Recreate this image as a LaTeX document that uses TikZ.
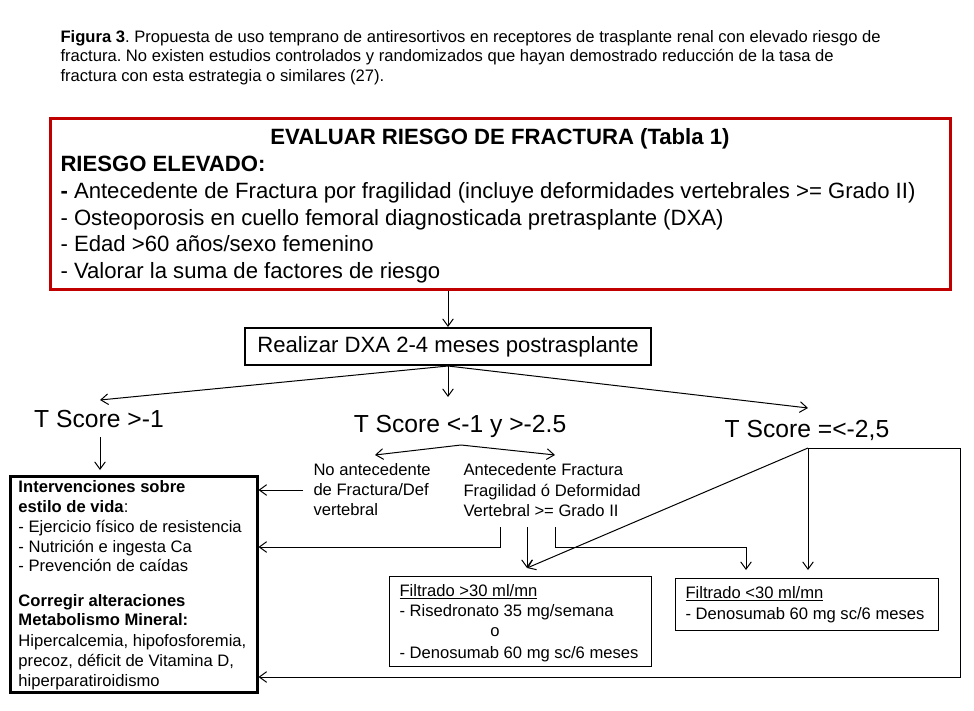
\documentclass[tikz,border=0pt]{standalone}
\usepackage{fontspec}
\setmainfont{Liberation Sans}
\usetikzlibrary{arrows.meta}
\definecolor{boxred}{HTML}{C00000}
\frenchspacing
\begin{document}
\begin{tikzpicture}[x=0.75pt,y=-0.75pt,line width=0.75pt,
  arr/.style={-{Straight Barb[length=5.5pt,width=8pt,line width=0.75pt]}},
  ln/.style={inner sep=0pt,anchor=base west},
  captxt/.style={ln,font=\fontsize{12.45pt}{14pt}\selectfont},
  bigtxt/.style={ln,font=\fontsize{16.6pt}{19pt}\selectfont},
  smtxt/.style={ln,font=\fontsize{12.45pt}{14pt}\selectfont},
  tsc/.style={inner sep=0pt,font=\fontsize{18.5pt}{21pt}\selectfont}]
\useasboundingbox (0,0) rectangle (974,710);
% caption
\node[captxt] (c1) at (60,43) {\textbf{Figura 3}. Propuesta de uso temprano de antiresortivos en receptores de trasplante renal con elevado riesgo de};
\node[captxt] (c2) at (60,62) {fractura. No existen estudios controlados y randomizados que hayan demostrado reducción de la tasa de};
\node[captxt] (c3) at (60,82) {fractura con esta estrategia o similares (27).};
% red box
\node[draw=boxred,line width=2.25pt,minimum width=675pt,minimum height=128.25pt,inner sep=0pt] (risk) at (500,203.5) {};
\node[inner sep=0pt,font=\bfseries\fontsize{16.6pt}{19pt}\selectfont] (rt) at (500,139) {EVALUAR RIESGO DE FRACTURA (Tabla 1)};
\node[bigtxt] (r0) at (60,171) {\textbf{RIESGO ELEVADO:}};
\node[bigtxt] (r1) at (60,198) {\textbf{-} Antecedente de Fractura por fragilidad (incluye deformidades vertebrales >= Grado II)};
\node[bigtxt] (r2) at (60,225) {- Osteoporosis en cuello femoral diagnosticada pretrasplante (DXA)};
\node[bigtxt] (r3) at (60,251) {- Edad >60 años/sexo femenino};
\node[bigtxt] (r4) at (60,278) {- Valorar la suma de factores de riesgo};
% DXA
\node[draw,line width=1.5pt,minimum width=304.5pt,minimum height=27.75pt,inner sep=0pt,font=\fontsize{16.6pt}{19pt}\selectfont] (dxa) at (448,346.5) {\raisebox{-2pt}{Realizar DXA 2-4 meses postrasplante}};
\draw[arr] (dxa.north |- risk.south) -- (dxa.north);
% T scores
\node[tsc] (t1) at (99,419) {T Score >-1};
\node[tsc] (t2) at (460,426) {T Score <-1 y >-2.5};
\node[tsc] (t3) at (807,430) {T Score =<-2,5};
\coordinate (t1in) at (100,400);
\coordinate (t2in) at (448,397);
\coordinate (t3in) at (808,408);
\draw[arr] (dxa.south) -- (t1in);
\draw[arr] (dxa.south) -- (t2in);
\draw[arr] (dxa.south) -- (t3in);
% life box
\node[draw,line width=2.25pt,minimum width=185.25pt,minimum height=162pt,inner sep=0pt] (life) at (133.5,584) {};
\coordinate (t1out) at (100,437);
\draw[arr] (t1out) -- (t1out |- 0,470);
\node[smtxt] (l1) at (18,492) {\textbf{Intervenciones sobre}};
\node[smtxt] (l2) at (18,512) {\textbf{estilo de vida}:};
\node[smtxt] (l3) at (18,532) {- Ejercicio físico de resistencia};
\node[smtxt] (l4) at (18,552) {- Nutrición e ingesta Ca};
\node[smtxt] (l5) at (18,571) {- Prevención de caídas};
\node[smtxt] (l6) at (18,606) {\textbf{Corregir alteraciones}};
\node[smtxt] (l7) at (18,625) {\textbf{Metabolismo Mineral:}};
\node[smtxt] (l8) at (18,646) {Hipercalcemia, hipofosforemia,};
\node[smtxt] (l9) at (18,666) {precoz, déficit de Vitamina D,};
\node[smtxt] (l10) at (18,686) {hiperparatiroidismo};
% middle branch
\coordinate (t2out) at (461,445);
\coordinate (noin) at (375,455);
\coordinate (siin) at (555,455);
\draw[arr] (t2out) -- (noin);
\draw[arr] (t2out) -- (siin);
\node[smtxt] (n1) at (313,475) {No antecedente};
\node[smtxt] (n2) at (313,495) {de Fractura/Def};
\node[smtxt] (n3) at (313,515) {vertebral};
\node[smtxt] (s1) at (463,475) {Antecedente Fractura};
\node[smtxt] (s2) at (463,496) {Fragilidad ó Deformidad};
\node[smtxt] (s3) at (463,516) {Vertebral >= Grado II};
\draw[arr] (303,490) -- (life.east |- 0,490);
\draw[arr] (500,527) -- (500,547) -- (life.east |- 0,547);
% filtrado boxes
\node[draw,minimum width=196.5pt,minimum height=67.5pt,inner sep=0pt] (f1) at (520,621) {};
\node[draw,minimum width=197.25pt,minimum height=39pt,inner sep=0pt] (f2) at (806.5,604) {};
\node[smtxt] (f1a) at (399,596) {\underline{Filtrado >30 ml/mn}};
\node[smtxt] (f1b) at (399,616) {- Risedronato 35 mg/semana};
\node[inner sep=0pt,font=\fontsize{12.45pt}{14pt}\selectfont] (f1c) at (495,632) {o};
\node[smtxt] (f1d) at (399,658) {- Denosumab 60 mg sc/6 meses};
\node[smtxt] (f2a) at (685,598) {\underline{Filtrado <30 ml/mn}};
\node[smtxt] (f2b) at (685,619) {- Denosumab 60 mg sc/6 meses};
\coordinate (f1in) at (527,568);
\coordinate (f2in) at (746,570);
\coordinate (f2in2) at (808,570);
\draw[arr] (527,527) -- (f1in);
\draw[arr] (555,527) -- (555,547) -- (f2in |- 0,547) -- (f2in);
% right branch
\coordinate (t3out) at (808,448);
\draw[arr] (t3out) -- (f1in);
\draw[arr] (t3out) -- (f2in2);
\draw[arr] (t3out) -- (960,448) -- (960,677) -- (life.east |- 0,677);
\end{tikzpicture}
\end{document}
